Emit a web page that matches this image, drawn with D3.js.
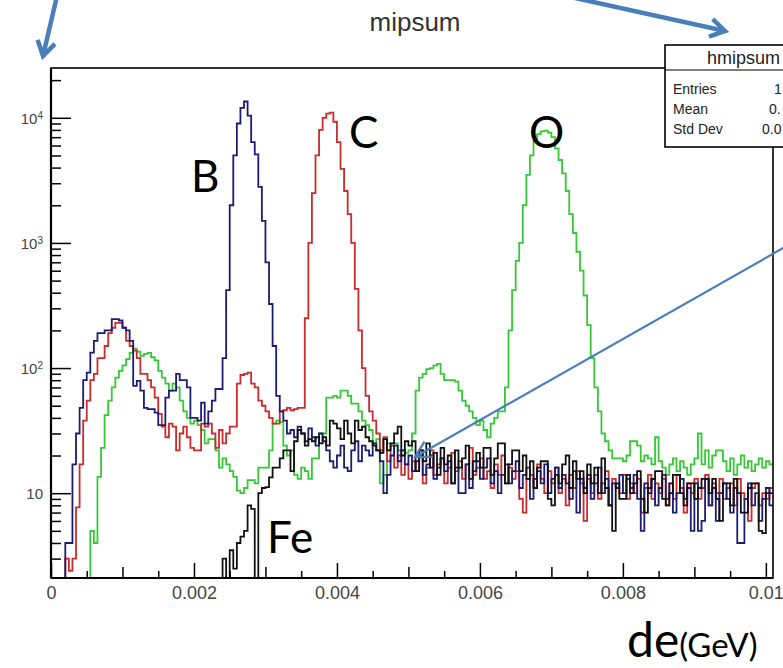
<!DOCTYPE html>
<html lang="en">

<head>
  <meta charset="utf-8">
  <title>mipsum</title>
  <script src="https://d3js.org/d3.v7.min.js" charset="utf-8"></script>
  <style type="text/css">
    body {
      margin: 0;
      background: #fff;
    }

    .axis line {
      stroke: #000;
      stroke-width: 1.5px;
    }

    .hist {
      fill: none;
      stroke-width: 1.8px;
      stroke-linejoin: miter;
    }

    .note {
      font-family: Lato, "Open Sans", sans-serif;
      fill: #000;
    }

    .stats text {
      font-family: "Liberation Sans", Arial, sans-serif;
      fill: #222;
    }
  </style>
</head>

<body>
  <script type="text/javascript">
    // bin contents, bin width 0.00005 GeV, 202 bins from 0
    var binWidth = 0.00005;

    var countsO = [
      0, 0, 0, 0, 0, 0, 0, 0, 0, 0,
      0, 5, 4, 13.5, 23, 42, 55, 70, 84, 95,
      105, 118, 132, 143, 135, 125, 130, 132, 122, 115,
      95, 84, 75, 66, 75, 70, 55, 45, 40, 36,
      38, 35, 32, 25, 27, 27, 22, 16, 19, 17,
      15, 13.5, 10.5, 10, 11, 12.7, 12.7, 12, 16, 16,
      16, 22, 36, 38, 37, 24, 20, 22, 14, 13,
      16, 15, 13, 19, 19, 30, 30, 58, 58, 60,
      58, 66, 66, 60, 52, 52, 45, 38, 35, 32,
      25, 27, 12, 14, 25, 25, 25, 22, 22, 21,
      22, 30, 66, 84, 90, 98, 100, 105, 108, 90,
      80, 80, 80, 78, 66, 55, 50, 45, 40, 35,
      38, 32, 28, 36, 40, 45, 45, 70, 200, 420,
      720, 1000, 2000, 3500, 5000, 6500, 7400, 7800, 7900, 7600,
      7000, 5700, 4600, 3600, 2600, 1700, 1200, 850, 600, 380,
      220, 120, 70, 45, 30, 26, 22, 19, 19, 19,
      18, 20, 26, 26, 24, 18, 20, 19, 17, 28,
      18, 16, 14, 17, 19, 15, 18, 16, 14, 17,
      19, 30, 17, 22, 16, 20, 22, 22, 18, 15,
      19, 14, 17, 20, 16, 18, 15, 17, 19, 16,
      18, 17
    ];

    var countsC = [
      0, 0, 0, 0, 3, 2.4, 3, 7.7, 17, 38,
      55, 80, 90, 120, 120, 150, 190, 210, 230, 230,
      210, 165, 150, 138, 120, 90, 90, 80, 70, 58,
      43, 34, 28, 36, 34, 22, 30, 34, 28, 23,
      22, 22, 36, 34, 36, 30, 23, 32, 25, 30,
      34, 34, 75, 88, 90, 92, 75, 70, 55, 50,
      45, 40, 36, 36, 45, 46, 48, 46, 47, 48,
      48, 250, 1000, 2500, 5000, 8000, 10000, 10800, 11000, 9300,
      6400, 3900, 2600, 1700, 1000, 430, 200, 100, 60, 45,
      38, 30, 22, 28, 18, 24, 16, 20, 14, 17,
      13, 18, 15, 20, 12, 16, 22, 14, 17, 19,
      12, 16, 21, 15, 18, 13, 17, 23, 14, 16,
      19, 13, 15, 11, 17, 14, 20, 12, 16, 13,
      15, 9, 7, 13, 14, 11, 17, 13, 10, 15,
      12, 16, 10, 13, 8, 14, 11, 15, 12, 6,
      13, 10, 14, 9, 12, 15, 8, 13, 11, 10,
      14, 9, 12, 10, 13, 7, 11, 14, 9, 12,
      10, 13, 8, 12, 9, 14, 11, 7, 12, 10,
      13, 9, 11, 14, 8, 12, 10, 13, 9, 11,
      12, 8, 13, 10, 9, 6, 11, 12, 8, 10,
      9, 11
    ];

    var countsB = [
      0, 0, 0, 0, 4, 4, 17, 30, 48, 80,
      92, 133, 165, 190, 190, 200, 200, 246, 246, 240,
      210, 200, 165, 72, 79, 66, 48, 47, 47, 44,
      35, 35, 58, 66, 66, 90, 80, 80, 70, 40,
      40, 38, 53, 36, 45, 55, 68, 68, 120, 420,
      2000, 5000, 9000, 12000, 13500, 10400, 6400, 5100, 2800, 1500,
      700, 325, 150, 60, 45, 38, 30, 32, 28, 34,
      30, 26, 33, 28, 24, 30, 26, 22, 18, 16,
      20, 24, 16, 15, 22, 26, 18, 24, 22, 20,
      25, 22, 18, 10, 14, 20, 24, 18, 22, 17,
      20, 15, 18, 22, 14, 17, 20, 13, 16, 19,
      15, 18, 12, 16, 10, 10, 17, 11, 15, 18,
      13, 16, 19, 12, 15, 10, 14, 17, 12, 15,
      18, 11, 14, 16, 9, 13, 15, 12, 17, 10,
      13, 16, 11, 14, 12, 9, 15, 7, 13, 11,
      14, 9, 12, 16, 10, 13, 8, 12, 11, 14,
      10, 13, 11, 14, 9, 5, 12, 10, 13, 8,
      11, 14, 9, 12, 7, 10, 13, 9, 11, 5,
      12, 5, 6, 13, 8, 11, 6, 10, 12, 9,
      7, 11, 4, 4, 9, 12, 8, 10, 6, 9,
      11, 8
    ];

    var countsFe = [
      0, 0, 0, 0, 0, 0, 0, 0, 0, 0,
      0, 0, 0, 0, 0, 0, 0, 0, 0, 0,
      0, 0, 0, 0, 0, 0, 0, 0, 0, 0,
      0, 0, 0, 0, 0, 0, 0, 0, 0, 0,
      0, 0, 0, 0, 0, 0, 0, 0, 3, 0,
      3.5, 2.5, 4, 4.5, 5, 8, 7.5, 0, 10, 11,
      11.2, 13.4, 16, 16, 19, 22, 22, 15, 26, 32,
      30, 24, 27, 26, 28, 25, 28, 24, 38, 36,
      33, 27, 38, 30, 25, 38, 32, 34, 28, 26,
      24, 22, 21, 27, 22, 25, 30, 34, 20, 26,
      24, 26, 15, 22, 18, 25, 16, 21, 14, 23,
      17, 20, 12, 22, 16, 19, 24, 13, 18, 21,
      16, 23, 23, 14, 19, 25, 25, 12, 17, 22,
      22, 15, 20, 13, 18, 11, 16, 18, 18, 9,
      8, 14, 12, 17, 20, 11, 18, 13, 15, 10,
      17, 12, 16, 10, 19, 11, 8, 5, 12, 9,
      9, 14, 10, 12, 15, 9, 7, 11, 13, 15,
      15, 9, 8, 10, 14, 14, 10, 8, 12, 12,
      9, 11, 13, 13, 10, 13, 9, 6, 12, 12,
      8, 13, 10, 7, 7, 11, 12, 12, 5, 4.8,
      10, 10
    ];

    var seriesNames = ["O", "C", "B", "Fe"];
    var seriesColors = ["#35c935", "#cc2b2b", "#1c1c72", "#111111"];

    var xTicks = [0, 0.002, 0.004, 0.006, 0.008, 0.01];
    var xTickLabels = ["0", "0.002", "0.004", "0.006", "0.008", "0.01"];
    var yTicks = [10, 100, 1000, 10000];
    var yTickExponents = ["", "2", "3", "4"];

    var statNames = ["Entries", "Mean", "Std Dev"];
    var statValues = ["1", "0.", "0.0"];

    var width = 783,
      height = 668,
      plot = { left: 51, right: 773, top: 68, bottom: 578 },
      yMin = 2.1,
      yMax = 25000;

    var svg = d3.select("body")
      .append("svg")
      .attr("width", width)
      .attr("height", height);

    var x = d3.scaleLinear()
      .domain([0, countsO.length * binWidth])
      .range([plot.left, plot.right]);

    var y = d3.scaleLog()
      .domain([yMin, yMax])
      .range([plot.bottom, plot.top]);

    svg.append("defs")
      .append("clipPath")
      .attr("id", "frame")
      .append("rect")
      .attr("x", plot.left)
      .attr("y", plot.top)
      .attr("width", plot.right - plot.left)
      .attr("height", plot.bottom - plot.top);

    // title
    svg.append("text")
      .attr("x", 415)
      .attr("y", 31)
      .attr("text-anchor", "middle")
      .attr("font-family", "Liberation Sans, Arial, sans-serif")
      .attr("font-size", "26px")
      .attr("fill", "#333")
      .text("mipsum");

    // histograms
    var line = d3.line().curve(d3.curveStepAfter);

    function stepPoints(counts) {
      var pts = counts.map(function (c, i) {
        return [x(i * binWidth), y(Math.max(c, yMin))];
      });
      pts.push([x(counts.length * binWidth), y(Math.max(counts[counts.length - 1], yMin))]);
      return pts;
    }

    var allCounts = [countsO, countsC, countsB, countsFe];

    svg.append("g")
      .attr("clip-path", "url(#frame)")
      .selectAll("path")
      .data(allCounts)
      .enter()
      .append("path")
      .attr("class", "hist")
      .attr("stroke", function (d, i) {
        return seriesColors[i];
      })
      .attr("d", function (d) {
        return line(stepPoints(d));
      });

    // x axis, ticks pointing into the frame
    var xAxis = svg.append("g")
      .attr("class", "axis")
      .attr("transform", "translate(0," + plot.bottom + ")");

    xAxis.call(d3.axisBottom(x)
      .tickValues(xTicks)
      .tickSize(-15)
      .tickPadding(8)
      .tickFormat(function (d, i) {
        return xTickLabels[i];
      }));

    xAxis.append("g")
      .call(d3.axisBottom(x)
        .tickValues(d3.range(1, 11, 2).map(function (k) { return k * 0.001; }))
        .tickSize(-11)
        .tickFormat(""));

    xAxis.append("g")
      .call(d3.axisBottom(x)
        .tickValues(d3.range(1, 21, 2).map(function (k) { return k * 0.0005; }))
        .tickSize(-7)
        .tickFormat(""));

    xAxis.selectAll(".domain").remove();

    // y axis, log
    var yAxis = svg.append("g")
      .attr("class", "axis")
      .attr("transform", "translate(" + plot.left + ",0)");

    yAxis.call(d3.axisLeft(y)
      .tickValues(yTicks)
      .tickSize(-20)
      .tickPadding(8)
      .tickFormat(function () { return "10"; }));

    yAxis.selectAll(".tick text")
      .attr("dy", "0.36em")
      .each(function (d, i) {
        if (yTickExponents[i]) {
          d3.select(this).append("tspan")
            .attr("dy", "-0.5em")
            .style("font-size", "10px")
            .text(yTickExponents[i]);
        }
      });

    var yMinor = [];
    [1, 10, 100, 1000, 10000].forEach(function (dec) {
      d3.range(2, 10).forEach(function (m) {
        var v = m * dec;
        if (v > yMin && v < yMax) yMinor.push(v);
      });
    });

    yAxis.append("g")
      .call(d3.axisLeft(y)
        .tickValues(yMinor)
        .tickSize(-10)
        .tickFormat(""));

    yAxis.selectAll(".domain").remove();

    xAxis.selectAll(".tick text")
      .style("font-family", "Liberation Sans, Arial, sans-serif")
      .style("font-size", "18px")
      .style("fill", "#444");

    yAxis.selectAll(".tick text")
      .style("font-family", "Liberation Sans, Arial, sans-serif")
      .style("font-size", "15px")
      .style("fill", "#444");

    // frame
    svg.append("rect")
      .attr("x", plot.left)
      .attr("y", plot.top)
      .attr("width", plot.right - plot.left)
      .attr("height", plot.bottom - plot.top)
      .attr("fill", "none")
      .attr("stroke", "#000")
      .attr("stroke-width", 1.6);

    svg.append("line")
      .attr("x1", plot.left).attr("x2", plot.left)
      .attr("y1", plot.top).attr("y2", plot.bottom)
      .attr("stroke", "#000")
      .attr("stroke-width", 2.2);

    svg.append("line")
      .attr("x1", plot.left).attr("x2", plot.right)
      .attr("y1", plot.bottom).attr("y2", plot.bottom)
      .attr("stroke", "#000")
      .attr("stroke-width", 2.2);

    // stats box (runs off the right edge of the picture)
    var stats = svg.append("g").attr("class", "stats");

    stats.append("rect")
      .attr("x", 665)
      .attr("y", 45)
      .attr("width", 170)
      .attr("height", 102)
      .attr("fill", "#fff")
      .attr("stroke", "#000")
      .attr("stroke-width", 1.6);

    stats.append("line")
      .attr("x1", 665).attr("x2", 835)
      .attr("y1", 70).attr("y2", 70)
      .attr("stroke", "#000")
      .attr("stroke-width", 1.2);

    stats.append("text")
      .attr("x", 707)
      .attr("y", 64)
      .attr("font-size", "18px")
      .text("hmipsum");

    stats.selectAll(".stat-name")
      .data(statNames)
      .enter()
      .append("text")
      .attr("class", "stat-name")
      .attr("x", 673)
      .attr("y", function (d, i) { return 94 + i * 20; })
      .attr("font-size", "14px")
      .text(function (d) { return d; });

    stats.selectAll(".stat-value")
      .data(statValues)
      .enter()
      .append("text")
      .attr("class", "stat-value")
      .attr("x", function (d, i) { return [774, 769, 762][i]; })
      .attr("y", function (d, i) { return 94 + i * 20; })
      .attr("font-size", "14px")
      .text(function (d) { return d; });

    // hand-drawn annotations on top of the plot
    var arrowColor = "#4a7ebb";

    function arrow(x1, y1, x2, y2, w, head, spread) {
      var a = Math.atan2(y2 - y1, x2 - x1);
      var p1 = [x2 - head * Math.cos(a - spread), y2 - head * Math.sin(a - spread)];
      var p2 = [x2 - head * Math.cos(a + spread), y2 - head * Math.sin(a + spread)];
      svg.append("line")
        .attr("x1", x1).attr("y1", y1)
        .attr("x2", x2).attr("y2", y2)
        .attr("stroke", arrowColor)
        .attr("stroke-width", w);
      svg.append("path")
        .attr("d", "M" + p1 + "L" + x2 + "," + y2 + "L" + p2)
        .attr("fill", "none")
        .attr("stroke", arrowColor)
        .attr("stroke-width", w)
        .attr("stroke-linejoin", "miter");
    }

    arrow(57, -4, 43, 56, 4.5, 17, 0.55);
    arrow(566, -4, 725, 31, 4.5, 17, 0.55);
    arrow(792, 243, 415, 457, 2.2, 18, 0.5);

    var notes = [
      { t: seriesNames[2], x: 191, y: 192 },
      { t: seriesNames[1], x: 349, y: 148 },
      { t: seriesNames[0], x: 529, y: 148 },
      { t: seriesNames[3], x: 267, y: 553 }
    ];

    svg.selectAll(".note")
      .data(notes)
      .enter()
      .append("text")
      .attr("class", "note")
      .attr("x", function (d) { return d.x; })
      .attr("y", function (d) { return d.y; })
      .attr("font-size", "44px")
      .text(function (d) { return d.t; });

    var xTitle = svg.append("text")
      .attr("class", "note")
      .attr("x", 627)
      .attr("y", 657);
    xTitle.append("tspan")
      .attr("font-size", "48px")
      .text("de");
    xTitle.append("tspan")
      .attr("font-size", "33px")
      .text("(GeV)");
  </script>
</body>

</html>
